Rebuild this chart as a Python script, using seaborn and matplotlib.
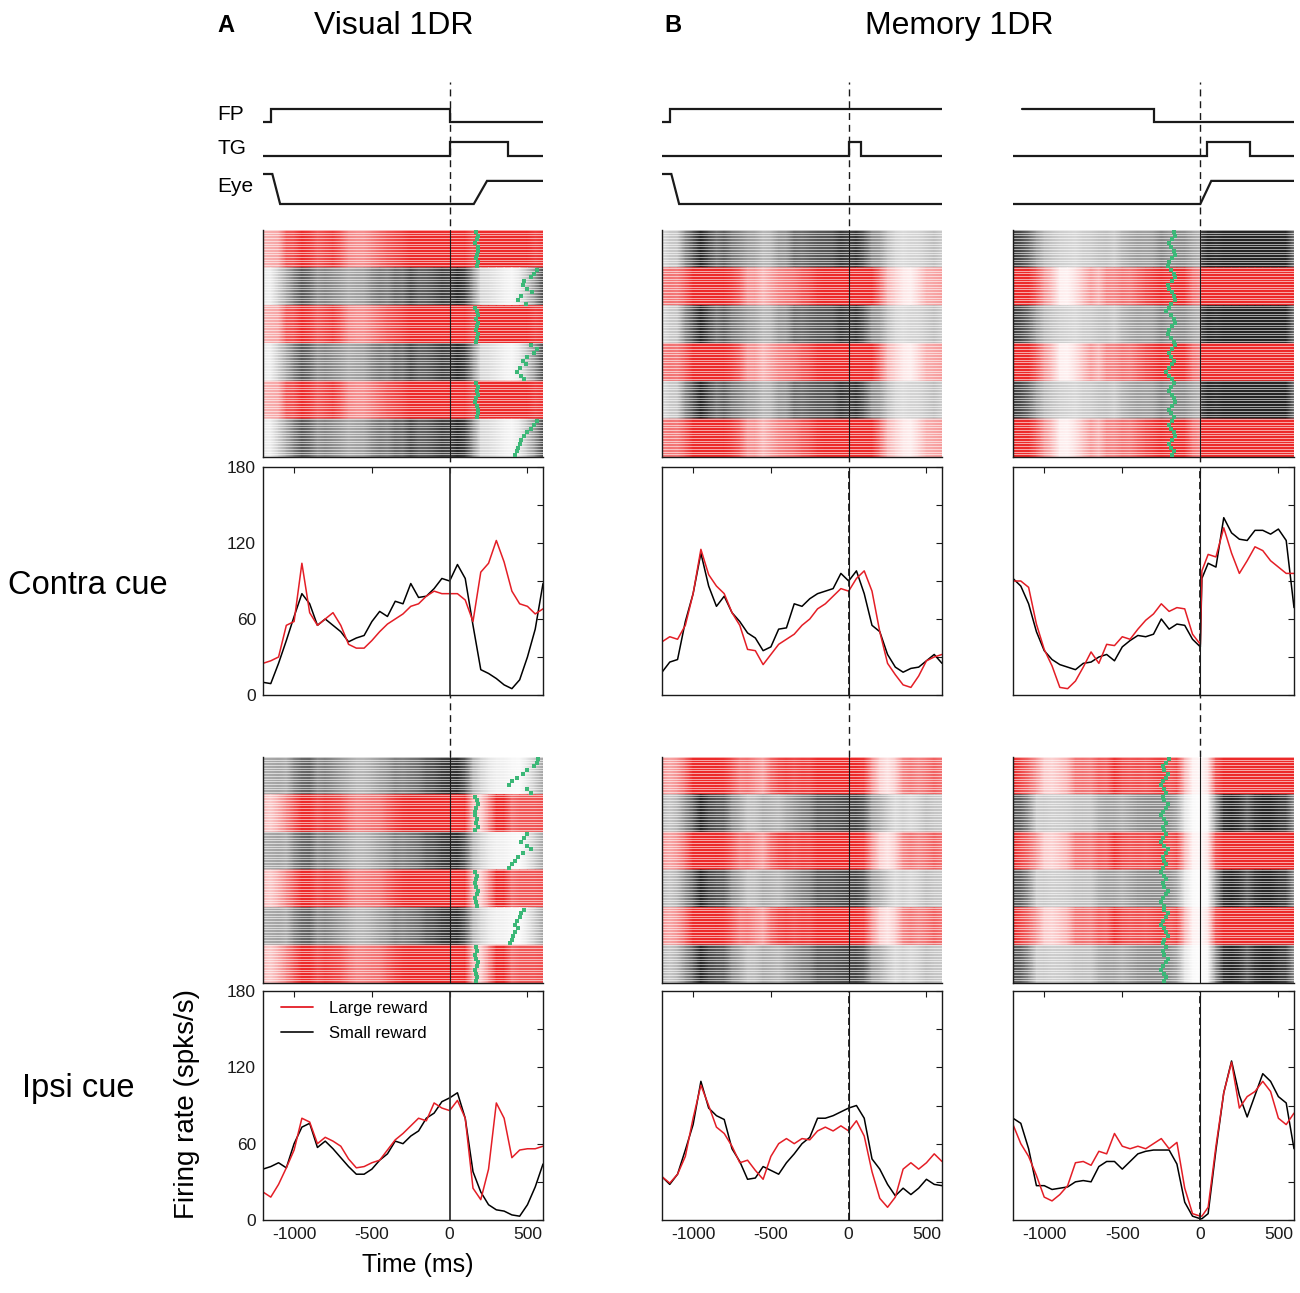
import numpy as np
import pandas as pd
import seaborn as sns
import matplotlib.pyplot as plt
from matplotlib.colors import LinearSegmentedColormap
from matplotlib.lines import Line2D

W, H = 1300, 1293

# time bases (ms); cue-aligned and saccade-aligned
t_cue = list(range(-1200, 601, 50))
t_sac = t_cue[:25] + [10] + t_cue[25:]

# --- PSTHs (spks/s) ---
vis_contra_large = [25, 27, 30, 55, 58, 104, 65, 55, 60, 65, 55, 40, 37, 37, 43, 50, 56, 60, 64, 70,
                    72, 78, 82, 80, 80, 80, 75, 58, 97, 104, 122, 105, 82, 72, 70, 64, 68]
vis_contra_small = [10, 9, 25, 43, 62, 80, 72, 55, 60, 55, 50, 42, 45, 47, 58, 66, 62, 74, 72, 88,
                    77, 78, 84, 92, 90, 103, 92, 55, 20, 17, 13, 8, 5, 12, 30, 52, 88]
vis_ipsi_large = [22, 18, 28, 41, 55, 80, 77, 60, 65, 62, 58, 48, 41, 42, 45, 47, 55, 63, 68, 74,
                  80, 78, 92, 88, 86, 94, 80, 25, 16, 40, 92, 80, 49, 55, 56, 56, 58]
vis_ipsi_small = [40, 42, 45, 41, 60, 73, 76, 57, 62, 56, 49, 42, 36, 36, 40, 47, 52, 62, 60, 66,
                  70, 80, 84, 93, 96, 100, 80, 38, 22, 12, 8, 7, 4, 3, 12, 26, 44]

mem_contra_large = [42, 46, 44, 55, 80, 115, 95, 86, 80, 65, 55, 36, 35, 24, 32, 40, 44, 48, 55, 60,
                    68, 72, 78, 84, 82, 92, 98, 82, 50, 25, 16, 8, 6, 15, 27, 30, 32]
mem_contra_small = [18, 26, 28, 58, 80, 112, 86, 70, 78, 65, 58, 49, 45, 35, 38, 52, 53, 72, 70, 76,
                    80, 82, 84, 96, 90, 98, 80, 55, 50, 32, 22, 18, 21, 22, 27, 32, 25]
mem_ipsi_large = [34, 29, 36, 50, 80, 106, 90, 73, 68, 58, 45, 47, 39, 32, 50, 60, 64, 60, 64, 63,
                  70, 73, 70, 74, 70, 78, 66, 38, 17, 10, 18, 40, 45, 40, 45, 52, 46]
mem_ipsi_small = [34, 28, 36, 55, 75, 109, 88, 82, 79, 56, 46, 32, 33, 42, 39, 36, 45, 52, 60, 65,
                  80, 80, 82, 85, 88, 90, 80, 48, 40, 28, 19, 25, 20, 25, 32, 28, 27]

sac_contra_large = [90, 90, 85, 56, 36, 23, 6, 5, 11, 22, 34, 25, 40, 39, 46, 44, 52, 59, 64, 72,
                    66, 69, 68, 48, 40, 98, 111, 109, 132, 112, 96, 106, 117, 114, 106, 101, 96, 96]
sac_contra_small = [92, 86, 72, 50, 35, 28, 24, 22, 20, 25, 26, 30, 32, 27, 38, 43, 47, 46, 48, 60,
                    52, 56, 55, 44, 38, 92, 104, 101, 140, 128, 123, 122, 130, 130, 127, 131, 122, 69]
sac_ipsi_large = [75, 60, 50, 35, 18, 15, 20, 27, 45, 46, 43, 54, 52, 68, 58, 56, 58, 56, 60, 64,
                  56, 61, 25, 5, 3, 3, 10, 58, 100, 124, 88, 97, 101, 109, 101, 80, 75, 84]
sac_ipsi_small = [80, 76, 56, 27, 27, 24, 25, 26, 30, 31, 30, 42, 46, 46, 40, 46, 52, 54, 55, 55,
                  55, 44, 14, 3, 1, 1, 5, 55, 100, 125, 98, 81, 98, 115, 109, 97, 92, 56]

# --- raster block order, top to bottom (L = large reward, S = small reward) ---
order_vis_contra = ['L', 'S', 'L', 'S', 'L', 'S']
order_vis_ipsi = ['S', 'L', 'S', 'L', 'S', 'L']
order_mem_contra = ['S', 'L', 'S', 'L', 'S', 'L']
order_sac_contra = ['S', 'L', 'S', 'L', 'S', 'L']
order_mem_ipsi = ['L', 'S', 'L', 'S', 'L', 'S']
order_sac_ipsi = ['L', 'S', 'L', 'S', 'L', 'S']

# --- green marks (ms) per block: saccade onset (visual) / FP offset (saccade-aligned) ---
green_vis_contra = [[170, 180, 175, 165, 180, 185, 175, 170, 180, 175],
                    [560, 540, 520, 480, 470, 500, 530, 460, 440, 490],
                    [165, 175, 180, 170, 185, 175, 170, 180, 175, 170],
                    [520, 560, 540, 500, 470, 490, 450, 430, 460, 480],
                    [170, 180, 175, 185, 170, 165, 175, 180, 185, 175],
                    [560, 540, 520, 500, 480, 460, 450, 440, 430, 420]]
green_vis_ipsi = [[570, 560, 540, 500, 470, 430, 400, 380, 500, 520],
                  [160, 175, 180, 170, 160, 165, 175, 170, 180, 165],
                  [500, 480, 460, 500, 520, 470, 440, 420, 400, 380],
                  [165, 175, 170, 160, 170, 180, 175, 165, 170, 175],
                  [480, 460, 450, 430, 420, 440, 420, 410, 400, 390],
                  [170, 175, 165, 170, 180, 175, 165, 170, 175, 170]]
green_sac_contra = [[-170, -160, -180, -200, -190, -170, -160, -180, -200, -210],
                    [-190, -170, -160, -180, -210, -200, -180, -170, -160, -190],
                    [-200, -220, -190, -170, -160, -180, -200, -210, -190, -170],
                    [-160, -180, -200, -190, -170, -180, -200, -220, -200, -180],
                    [-170, -190, -200, -180, -170, -160, -180, -200, -190, -170],
                    [-180, -200, -190, -170, -160, -180, -200, -190, -170, -180]]
green_sac_ipsi = [[-200, -220, -240, -230, -210, -220, -240, -250, -230, -220],
                  [-240, -230, -210, -220, -240, -250, -230, -220, -240, -230],
                  [-220, -240, -250, -230, -210, -220, -240, -230, -220, -240],
                  [-250, -230, -220, -240, -230, -210, -220, -240, -250, -230],
                  [-230, -210, -220, -240, -250, -230, -220, -210, -230, -240],
                  [-220, -240, -230, -210, -220, -240, -250, -230, -220, -230]]

# --- task event schematics (state 0/1) ---
fp_t_vis, fp_v_vis = [-1200, -1150, -1150, 0, 0, 600], [0, 0, 1, 1, 0, 0]
tg_t_vis, tg_v_vis = [-1200, 0, 0, 375, 375, 600], [0, 0, 1, 1, 0, 0]
eye_t_vis, eye_v_vis = [-1200, -1140, -1090, 155, 240, 600], [1, 1, 0, 0, 0.77, 0.77]
fp_t_mem, fp_v_mem = [-1200, -1150, -1150, 600], [0, 0, 1, 1]
tg_t_mem, tg_v_mem = [-1200, 0, 0, 80, 80, 600], [0, 0, 1, 1, 0, 0]
eye_t_mem, eye_v_mem = [-1200, -1140, -1090, 600], [1, 1, 0, 0]
fp_t_sac, fp_v_sac = [-1140, -300, -300, 600], [1, 1, 0, 0]
tg_t_sac, tg_v_sac = [-1200, 40, 40, 320, 320, 600], [0, 0, 1, 1, 0, 0]
eye_t_sac, eye_v_sac = [-1200, 0, 70, 600], [0, 0, 0.77, 0.77]

RED = '#e41e26'
GREEN = '#3cb878'

sns.set_theme(style='white')
plt.rcParams['font.family'] = ['Liberation Sans', 'DejaVu Sans']
plt.rcParams['axes.unicode_minus'] = False
plt.rcParams['text.color'] = 'black'
plt.rcParams['xtick.color'] = 'black'
plt.rcParams['ytick.color'] = 'black'

fig = plt.figure(figsize=(13, 12.93), dpi=100)


def rect(x0, y0, x1, y1):
    return [x0 / W, 1 - y1 / H, (x1 - x0) / W, (y1 - y0) / H]


cols = [(263, 543), (662, 942), (1013, 1294)]

# dashed zero line running through each column
for x0, x1 in cols:
    ov = fig.add_axes(rect(x0, 82, x1, 757))
    ov.set_zorder(0)
    ov.set_xlim(-1200, 600)
    ov.axvline(0, color='k', lw=1.0, ls=(0, (5, 3.5)))
    ov.axis('off')


def events(x0, x1, fp, tg, eye):
    ax = fig.add_axes(rect(x0, 90, x1, 215))
    ax.set_zorder(1)
    for (t, v), base, amp in [(fp, 9.3, 1.3), (tg, 5.9, 1.4), (eye, 1.1, 3.0)]:
        ax.plot(t, base + amp * np.array(v), color='k', lw=1.6, solid_joinstyle='miter')
    ax.set_xlim(-1200, 600)
    ax.set_ylim(0, 12.5)
    ax.axis('off')


cmap_L = LinearSegmentedColormap.from_list('large', ['white', '#ec2a2a'])
cmap_S = LinearSegmentedColormap.from_list('small', ['white', '#262626'])


def raster(x0, y0, x1, y1, t, large, small, order, green):
    ax = fig.add_axes(rect(x0, y0, x1, y1))
    ax.set_zorder(1)
    for b, c in enumerate(order):
        rate = np.array(large if c == 'L' else small, float)
        ax.pcolormesh(t, [b, b + 1], np.vstack([rate, rate]), shading='gouraud',
                      cmap=cmap_L if c == 'L' else cmap_S, vmin=0, vmax=70 if c == 'L' else 105)
    ax.hlines(np.arange(0, 6, 1 / 14), -1200, 600, color='white', lw=0.7, alpha=0.6)
    for b, times in enumerate(green):
        rows = [b + (i + 0.5) / len(times) for i in range(len(times))]
        ax.scatter(times, rows, marker='s', s=7, color=GREEN, lw=0, zorder=3)
    ax.axvline(0, color='k', lw=0.8)
    ax.set_xlim(-1200, 600)
    ax.set_ylim(6, 0)
    ax.set_xticks([])
    ax.set_yticks([])
    for s in ['top', 'right']:
        ax.spines[s].set_visible(False)
    for s in ['left', 'bottom']:
        ax.spines[s].set_color('k')
        ax.spines[s].set_linewidth(1.0)


def psth(x0, y0, x1, y1, t, large, small, first_col, bottom, dashed, legend=False):
    ax = fig.add_axes(rect(x0, y0, x1, y1))
    ax.set_zorder(1)
    df = pd.DataFrame({'t': list(t) * 2, 'rate': list(small) + list(large),
                       'reward': ['Small reward'] * len(t) + ['Large reward'] * len(t)})
    sns.lineplot(data=df, x='t', y='rate', hue='reward', hue_order=['Small reward', 'Large reward'],
                 palette={'Small reward': 'black', 'Large reward': RED}, estimator=None,
                 lw=1.1, ax=ax, legend=False)
    if dashed:
        ax.axvline(0, color='k', lw=0.8)
        ax.axvline(0, color='k', lw=1.3, ls=(0, (4, 2)))
    else:
        ax.axvline(0, color='#333333', lw=1.3)
    ax.set_xlim(-1200, 600)
    ax.set_ylim(0, 180)
    ax.set_xticks([-1000, -500, 0, 500])
    ax.set_yticks(range(0, 181, 30))
    ax.set_yticklabels(['0', '', '60', '', '120', '', '180'] if first_col else [''] * 7)
    if not bottom:
        ax.set_xticklabels([''] * 4)
    ax.tick_params(direction='in', length=4, width=0.8, top=True, right=True,
                   labelsize=12.5, pad=5, colors='k')
    ax.set_xlabel('')
    ax.set_ylabel('')
    for s in ax.spines.values():
        s.set_color('k')
        s.set_linewidth(1.0)
    if legend:
        handles = [Line2D([], [], color=RED, lw=1.3), Line2D([], [], color='k', lw=1.3)]
        ax.legend(handles, ['Large reward', 'Small reward'], loc='upper left', frameon=False,
                  fontsize=12, handlelength=1.9, handletextpad=1.0, labelspacing=0.6,
                  bbox_to_anchor=(0.04, 0.985), borderaxespad=0)


(ax0, ax1), (bx0, bx1), (cx0, cx1) = cols
events(ax0, ax1, (fp_t_vis, fp_v_vis), (tg_t_vis, tg_v_vis), (eye_t_vis, eye_v_vis))
events(bx0, bx1, (fp_t_mem, fp_v_mem), (tg_t_mem, tg_v_mem), (eye_t_mem, eye_v_mem))
events(cx0, cx1, (fp_t_sac, fp_v_sac), (tg_t_sac, tg_v_sac), (eye_t_sac, eye_v_sac))

raster(ax0, 230, ax1, 457, t_cue, vis_contra_large, vis_contra_small, order_vis_contra, green_vis_contra)
raster(bx0, 230, bx1, 457, t_cue, mem_contra_large, mem_contra_small, order_mem_contra, [])
raster(cx0, 230, cx1, 457, t_sac, sac_contra_large, sac_contra_small, order_sac_contra, green_sac_contra)
raster(ax0, 757, ax1, 983, t_cue, vis_ipsi_large, vis_ipsi_small, order_vis_ipsi, green_vis_ipsi)
raster(bx0, 757, bx1, 983, t_cue, mem_ipsi_large, mem_ipsi_small, order_mem_ipsi, [])
raster(cx0, 757, cx1, 983, t_sac, sac_ipsi_large, sac_ipsi_small, order_sac_ipsi, green_sac_ipsi)

psth(ax0, 467, ax1, 695, t_cue, vis_contra_large, vis_contra_small, True, False, False)
psth(bx0, 467, bx1, 695, t_cue, mem_contra_large, mem_contra_small, False, False, True)
psth(cx0, 467, cx1, 695, t_sac, sac_contra_large, sac_contra_small, False, False, True)
psth(ax0, 991, ax1, 1220, t_cue, vis_ipsi_large, vis_ipsi_small, True, True, False, legend=True)
psth(bx0, 991, bx1, 1220, t_cue, mem_ipsi_large, mem_ipsi_small, False, True, True)
psth(cx0, 991, cx1, 1220, t_sac, sac_ipsi_large, sac_ipsi_small, False, True, True)


def ftext(x, y, s, **kw):
    fig.text(x / W, 1 - y / H, s, **kw)


ftext(217, 26, 'A', fontsize=17, fontweight='bold', va='center', ha='left')
ftext(394, 26, 'Visual 1DR', fontsize=23, va='center', ha='center')
ftext(664, 26, 'B', fontsize=17, fontweight='bold', va='center', ha='left')
ftext(959, 26, 'Memory 1DR', fontsize=23, va='center', ha='center')
ftext(217, 115, 'FP', fontsize=15, va='center', ha='left')
ftext(217, 149, 'TG', fontsize=15, va='center', ha='left')
ftext(217, 186, 'Eye', fontsize=15, va='center', ha='left')
ftext(8, 585, 'Contra cue', fontsize=23.5, va='center', ha='left')
ftext(22, 1088, 'Ipsi cue', fontsize=23.5, va='center', ha='left')
ftext(187, 1104, 'Firing rate (spks/s)', fontsize=20, rotation=90, va='center', ha='center')
ftext(418, 1265, 'Time (ms)', fontsize=18, va='center', ha='center')

fig.savefig('out.png', dpi=100)
